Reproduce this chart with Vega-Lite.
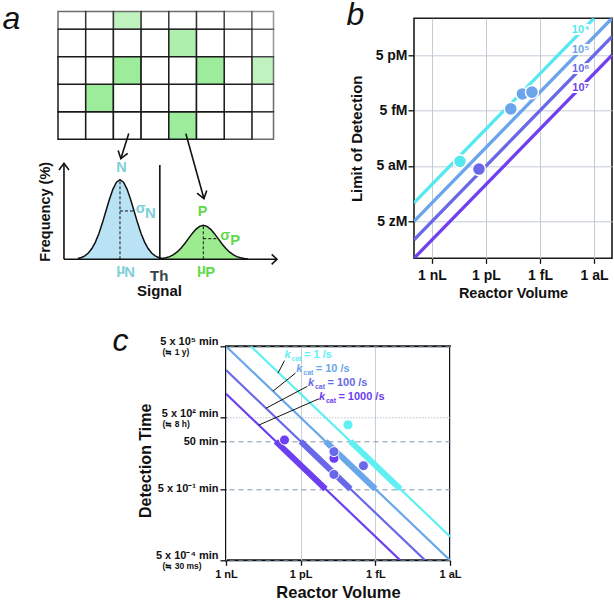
{
"$schema": "https://vega.github.io/schema/vega-lite/v6.json",
"padding": {"left": 2, "top": -1.7, "right": 0, "bottom": 0},
"background": "white",
"config": {
  "font": "Liberation Sans",
  "view": {"stroke": null},
  "axis": {"labelFont": "Liberation Sans", "titleFont": "Liberation Sans", "labelFontWeight": "bold", "titleFontWeight": "bold", "labelColor": "#111111", "titleColor": "#111111", "tickColor": "#111111", "labelFlush": false, "labelOverlap": false, "labelBound": false},
  "title": {"font": "Liberation Sans", "color": "#111111"},
  "text": {"font": "Liberation Sans"}
},
"datasets": {
  "cells": [
    {"c0":7,"c1":7.78,"r0":3,"r1":4,"z":"faint","s":"neg"},
    {"c0":6,"c1":7,"r0":4,"r1":4.65,"z":"faint","s":"neg"},
    {"c0":7,"c1":7.78,"r0":4,"r1":4.65,"z":"faint","s":"neg"},
    {"c0":7,"c1":7.78,"r0":0,"r1":1,"z":"far","s":"neg"},
    {"c0":7,"c1":7.78,"r0":1,"r1":2,"z":"far","s":"neg"},
    {"c0":7,"c1":7.78,"r0":2,"r1":3,"z":"far","s":"pos"},
    {"c0":6,"c1":7,"r0":3,"r1":4,"z":"far","s":"neg"},
    {"c0":0,"c1":1,"r0":4,"r1":4.65,"z":"far","s":"neg"},
    {"c0":1,"c1":2,"r0":4,"r1":4.65,"z":"far","s":"neg"},
    {"c0":2,"c1":3,"r0":4,"r1":4.65,"z":"far","s":"pos"},
    {"c0":3,"c1":4,"r0":4,"r1":4.65,"z":"far","s":"neg"},
    {"c0":4,"c1":5,"r0":4,"r1":4.65,"z":"far","s":"neg"},
    {"c0":5,"c1":6,"r0":4,"r1":4.65,"z":"far","s":"neg"},
    {"c0":6,"c1":7,"r0":0,"r1":1,"z":"edge","s":"neg"},
    {"c0":6,"c1":7,"r0":1,"r1":2,"z":"edge","s":"neg"},
    {"c0":6,"c1":7,"r0":2,"r1":3,"z":"edge","s":"neg"},
    {"c0":0,"c1":1,"r0":3,"r1":4,"z":"edge","s":"neg"},
    {"c0":1,"c1":2,"r0":3,"r1":4,"z":"edge","s":"neg"},
    {"c0":2,"c1":3,"r0":3,"r1":4,"z":"edge","s":"neg"},
    {"c0":3,"c1":4,"r0":3,"r1":4,"z":"edge","s":"neg"},
    {"c0":4,"c1":5,"r0":3,"r1":4,"z":"edge","s":"pos"},
    {"c0":5,"c1":6,"r0":3,"r1":4,"z":"edge","s":"neg"},
    {"c0":0,"c1":1,"r0":0,"r1":1,"z":"core","s":"neg"},
    {"c0":1,"c1":2,"r0":0,"r1":1,"z":"core","s":"neg"},
    {"c0":2,"c1":3,"r0":0,"r1":1,"z":"core","s":"neg"},
    {"c0":3,"c1":4,"r0":0,"r1":1,"z":"core","s":"neg"},
    {"c0":4,"c1":5,"r0":0,"r1":1,"z":"core","s":"pos"},
    {"c0":5,"c1":6,"r0":0,"r1":1,"z":"core","s":"neg"},
    {"c0":0,"c1":1,"r0":1,"r1":2,"z":"core","s":"neg"},
    {"c0":1,"c1":2,"r0":1,"r1":2,"z":"core","s":"pos"},
    {"c0":2,"c1":3,"r0":1,"r1":2,"z":"core","s":"neg"},
    {"c0":3,"c1":4,"r0":1,"r1":2,"z":"core","s":"neg"},
    {"c0":4,"c1":5,"r0":1,"r1":2,"z":"core","s":"neg"},
    {"c0":5,"c1":6,"r0":1,"r1":2,"z":"core","s":"neg"},
    {"c0":0,"c1":1,"r0":2,"r1":3,"z":"core","s":"neg"},
    {"c0":1,"c1":2,"r0":2,"r1":3,"z":"core","s":"neg"},
    {"c0":2,"c1":3,"r0":2,"r1":3,"z":"core","s":"pos"},
    {"c0":3,"c1":4,"r0":2,"r1":3,"z":"core","s":"neg"},
    {"c0":4,"c1":5,"r0":2,"r1":3,"z":"core","s":"neg"},
    {"c0":5,"c1":6,"r0":2,"r1":3,"z":"core","s":"pos"}
  ],
  "curves": [
    {"d":"N","s":0.65,"f":0.88},{"d":"N","s":0.815,"f":1.81},{"d":"N","s":0.98,"f":3.49},{"d":"N","s":1.145,"f":6.34},{"d":"N","s":1.31,"f":10.77},{"d":"N","s":1.475,"f":17.22},{"d":"N","s":1.64,"f":25.85},{"d":"N","s":1.805,"f":36.44},{"d":"N","s":1.97,"f":48.28},{"d":"N","s":2.135,"f":60.08},{"d":"N","s":2.3,"f":70.25},{"d":"N","s":2.465,"f":77.15},{"d":"N","s":2.63,"f":79.6},{"d":"N","s":2.795,"f":77.15},{"d":"N","s":2.96,"f":70.25},{"d":"N","s":3.125,"f":60.08},{"d":"N","s":3.29,"f":48.28},{"d":"N","s":3.455,"f":36.44},{"d":"N","s":3.62,"f":25.85},{"d":"N","s":3.785,"f":17.22},{"d":"N","s":3.95,"f":10.77},{"d":"N","s":4.115,"f":6.34},{"d":"N","s":4.28,"f":3.49},{"d":"N","s":4.445,"f":1.81},{"d":"N","s":4.61,"f":0.88},
    {"d":"P","s":4.44,"f":0.38},{"d":"P","s":4.615,"f":0.78},{"d":"P","s":4.79,"f":1.49},{"d":"P","s":4.965,"f":2.71},{"d":"P","s":5.14,"f":4.6},{"d":"P","s":5.315,"f":7.35},{"d":"P","s":5.49,"f":11.04},{"d":"P","s":5.665,"f":15.57},{"d":"P","s":5.84,"f":20.62},{"d":"P","s":6.015,"f":25.66},{"d":"P","s":6.19,"f":30.0},{"d":"P","s":6.365,"f":32.95},{"d":"P","s":6.54,"f":34},{"d":"P","s":6.715,"f":32.95},{"d":"P","s":6.89,"f":30.0},{"d":"P","s":7.065,"f":25.66},{"d":"P","s":7.24,"f":20.62},{"d":"P","s":7.415,"f":15.57},{"d":"P","s":7.59,"f":11.04},{"d":"P","s":7.765,"f":7.35},{"d":"P","s":7.94,"f":4.6},{"d":"P","s":8.115,"f":2.71},{"d":"P","s":8.29,"f":1.49},{"d":"P","s":8.465,"f":0.78},{"d":"P","s":8.64,"f":0.38}
  ],
  "aLines": [
    {"id":"ya","i":0,"s":0,"f":0,"k":"solid"},{"id":"ya","i":1,"s":0,"f":96,"k":"solid"},
    {"id":"yh","i":0,"s":-0.235,"f":89.3,"k":"solid"},{"id":"yh","i":1,"s":0,"f":96,"k":"solid"},{"id":"yh","i":2,"s":0.235,"f":89.3,"k":"solid"},
    {"id":"xa","i":0,"s":0,"f":0,"k":"solid"},{"id":"xa","i":1,"s":10,"f":0,"k":"solid"},
    {"id":"xh","i":0,"s":9.75,"f":5,"k":"solid"},{"id":"xh","i":1,"s":10,"f":0,"k":"solid"},{"id":"xh","i":2,"s":9.75,"f":-5,"k":"solid"},
    {"id":"th","i":0,"s":4.5,"f":0,"k":"solid"},{"id":"th","i":1,"s":4.5,"f":94.4,"k":"solid"},
    {"id":"ar1","i":0,"s":3.04,"f":125.7,"k":"solid"},{"id":"ar1","i":1,"s":2.67,"f":100.7,"k":"solid"},
    {"id":"ah1","i":0,"s":2.99,"f":105.9,"k":"solid"},{"id":"ah1","i":1,"s":2.67,"f":100.7,"k":"solid"},{"id":"ah1","i":2,"s":2.54,"f":108.9,"k":"solid"},
    {"id":"ar2","i":0,"s":5.72,"f":125.7,"k":"solid"},{"id":"ar2","i":1,"s":6.57,"f":60.7,"k":"solid"},
    {"id":"ah2","i":0,"s":6.7,"f":68.7,"k":"solid"},{"id":"ah2","i":1,"s":6.57,"f":60.7,"k":"solid"},{"id":"ah2","i":2,"s":6.25,"f":66.1,"k":"solid"},
    {"id":"muN","i":0,"s":2.63,"f":0,"k":"dashed"},{"id":"muN","i":1,"s":2.63,"f":79.6,"k":"dashed"},
    {"id":"sgN","i":0,"s":2.63,"f":48.3,"k":"dashed"},{"id":"sgN","i":1,"s":3.29,"f":48.3,"k":"dashed"},
    {"id":"muP","i":0,"s":6.54,"f":0,"k":"dashed"},{"id":"muP","i":1,"s":6.54,"f":34,"k":"dashed"},
    {"id":"sgP","i":0,"s":6.54,"f":20.6,"k":"dashed"},{"id":"sgP","i":1,"s":7.24,"f":20.6,"k":"dashed"}
  ],
  "aText": [
    {"t":"N","s":2.7,"f":91,"role":"name","who":"N"},
    {"t":"σ","s":3.6,"f":50.7,"role":"sym","who":"N"},
    {"t":"N","s":4.06,"f":45.5,"role":"sub","who":"N"},
    {"t":"P","s":6.51,"f":47.7,"role":"name","who":"P"},
    {"t":"σ","s":7.57,"f":23.5,"role":"sym","who":"P"},
    {"t":"P","s":8.04,"f":18,"role":"sub","who":"P"},
    {"t":"μ","s":2.67,"f":-10.5,"role":"sym","who":"N"},
    {"t":"N","s":3.08,"f":-13.8,"role":"sub","who":"N"},
    {"t":"Th","s":4.47,"f":-16.3,"role":"th","who":"T"},
    {"t":"μ","s":6.45,"f":-10.5,"role":"sym","who":"P"},
    {"t":"P","s":6.86,"f":-13.8,"role":"sub","who":"P"}
  ],
  "bLines": [
    {"n":"10⁴","v":1e-8,"c":5e-20},{"n":"10⁴","v":1e-18,"c":5e-10},
    {"n":"10⁵","v":1e-8,"c":5e-21},{"n":"10⁵","v":1e-19,"c":5e-10},
    {"n":"10⁶","v":1e-8,"c":5e-22},{"n":"10⁶","v":1e-19,"c":5e-11},
    {"n":"10⁷","v":1e-8,"c":5e-23},{"n":"10⁷","v":1e-19,"c":5e-12}
  ],
  "bLabels": [
    {"n":"10⁴","v":5.5e-18,"c":1.1e-10},
    {"n":"10⁵","v":5.5e-18,"c":1.0e-11},
    {"n":"10⁶","v":5.5e-18,"c":9.2e-13},
    {"n":"10⁷","v":5.5e-18,"c":8.0e-14}
  ],
  "bPoints": [
    {"n":"10⁴","v":2.8e-11,"c":8.9e-18},
    {"n":"10⁶","v":2.45e-12,"c":3.4e-18},
    {"n":"10⁵","v":4.2e-14,"c":6.2e-15},
    {"n":"10⁵","v":9.5e-15,"c":4.0e-14},
    {"n":"10⁵","v":2.8e-15,"c":5.0e-14}
  ],
  "cLines": [
    {"k":"1","v":1e-10,"t":5e5},{"k":"1","v":1e-18,"t":5e-3},
    {"k":"10","v":1e-9,"t":5e5},{"k":"10","v":1e-18,"t":5e-4},
    {"k":"100","v":1e-9,"t":5e4},{"k":"100","v":1e-17,"t":5e-4},
    {"k":"1000","v":1e-9,"t":5e3},{"k":"1000","v":1e-16,"t":5e-4}
  ],
  "cThick": [
    {"k":"1","v":1e-14,"t":50},{"k":"1","v":1e-16,"t":0.5},
    {"k":"10","v":1e-13,"t":50},{"k":"10","v":1e-15,"t":0.5},
    {"k":"100","v":1e-12,"t":50},{"k":"100","v":1e-14,"t":0.5},
    {"k":"1000","v":1e-11,"t":50},{"k":"1000","v":1e-13,"t":0.5}
  ],
  "cPoints": [
    {"k":"1","v":1.25e-14,"t":248},
    {"k":"1000","v":4.46e-12,"t":57.8},
    {"k":"1000","v":4.6e-14,"t":9.7},
    {"k":"100","v":4.6e-14,"t":18.6},
    {"k":"100","v":4.6e-14,"t":2.05},
    {"k":"100","v":3.0e-15,"t":4.76}
  ],
  "cLabels": [
    {"k":"1","v":4.46e-12,"t":1.56e5,"txt":"= 1 /s"},
    {"k":"10","v":1.5e-12,"t":4.0e4,"txt":"= 10 /s"},
    {"k":"100","v":5.1e-13,"t":1.03e4,"txt":"= 100 /s"},
    {"k":"1000","v":1.85e-13,"t":2.77e3,"txt":"= 1000 /s"}
  ],
  "cLeaders": [
    {"k":"1","i":0,"v":4.46e-12,"t":1.25e5},{"k":"1","i":1,"v":8.15e-12,"t":3.74e4},
    {"k":"10","i":0,"v":1.61e-12,"t":3.73e4},{"k":"10","i":1,"v":1.3e-11,"t":6.5e3},
    {"k":"100","i":0,"v":5.42e-13,"t":1.03e4},{"k":"100","i":1,"v":2.48e-11,"t":1.24e3},
    {"k":"1000","i":0,"v":1.85e-13,"t":3.1e3},{"k":"1000","i":1,"v":4.84e-11,"t":242}
  ],
  "cSub": [
    {"v":1e-9,"t":5e5,"s":"(≒ 1 y)"},
    {"v":1e-9,"t":500,"s":"(≒ 8 h)"},
    {"v":1e-9,"t":5e-4,"s":"(≒ 30 ms)"}
  ]
},
"bounds": "flush",
"spacing": 328,
"resolve": {"scale": {"color": "independent", "fill": "independent", "opacity": "independent", "size": "independent", "strokeDash": "independent", "strokeWidth": "independent"}},
"vconcat": [
  {
    "bounds": "flush",
    "spacing": 356,
    "resolve": {"scale": {"color": "independent", "fill": "independent", "opacity": "independent", "size": "independent", "strokeDash": "independent", "strokeWidth": "independent"}},
    "hconcat": [
      {
        "bounds": "flush",
        "spacing": 24,
        "resolve": {"scale": {"color": "independent", "fill": "independent", "opacity": "independent", "size": "independent", "strokeDash": "independent", "strokeWidth": "independent"}},
        "vconcat": [
          {
            "width": 219, "height": 121,
            "title": {"text": "a", "fontSize": 32, "fontStyle": "italic", "fontWeight": "normal", "anchor": "start", "frame": "group", "offset": 0, "baseline": "alphabetic", "dx": -55.5, "dy": 50.3},
            "data": {"name": "cells"},
            "mark": {"type": "rect", "stroke": "#1a1a1a", "strokeWidth": 1.5},
            "encoding": {
              "x": {"field": "c0", "type": "quantitative", "scale": {"domain": [0, 7.906], "nice": false, "zero": false}, "axis": null},
              "x2": {"field": "c1"},
              "y": {"field": "r0", "type": "quantitative", "scale": {"domain": [0, 4.4], "nice": false, "zero": false}, "axis": null},
              "y2": {"field": "r1"},
              "fill": {"field": "s", "type": "nominal", "scale": {"domain": ["pos", "neg"], "range": ["#9cec9c", "#ffffff"]}, "legend": null},
              "opacity": {"field": "z", "type": "ordinal", "scale": {"domain": ["core", "edge", "far", "faint"], "range": [1, 0.45, 0.15, 0.06]}, "legend": null}
            }
          },
          {
            "width": 219, "height": 96,
            "encoding": {
              "x": {"field": "s", "type": "quantitative", "scale": {"domain": [-0.28, 10], "nice": false, "zero": false}, "axis": {"title": "Signal", "domain": false, "ticks": false, "labels": false, "grid": false, "titlePadding": 24, "titleX": 101, "titleFontSize": 15}},
              "y": {"field": "f", "type": "quantitative", "stack": null, "scale": {"domain": [0, 96], "nice": false}, "axis": {"title": "Frequency (%)", "domain": false, "ticks": false, "labels": false, "grid": false, "titlePadding": 6, "titleFontSize": 14.5}}
            },
            "layer": [
              {"data": {"name": "curves"}, "mark": {"type": "area"},
               "encoding": {"fill": {"field": "d", "type": "nominal", "scale": {"domain": ["N", "P"], "range": ["#b9e3f5", "#9cec8f"]}, "legend": null}}},
              {"data": {"name": "curves"}, "mark": {"type": "line", "color": "#111111", "strokeWidth": 1.5},
               "encoding": {"detail": {"field": "d"}}},
              {"data": {"name": "aLines"}, "mark": {"type": "line", "color": "#111111"},
               "encoding": {"detail": {"field": "id"}, "order": {"field": "i"},
                 "strokeDash": {"field": "k", "type": "nominal", "scale": {"domain": ["solid", "dashed"], "range": [[1, 0], [3, 2]]}, "legend": null},
                 "strokeWidth": {"field": "k", "type": "ordinal", "scale": {"domain": ["solid", "dashed"], "range": [1.6, 1]}, "legend": null}}},
              {"data": {"name": "aText"}, "mark": {"type": "text", "fontWeight": "bold", "align": "center", "baseline": "middle"},
               "encoding": {"text": {"field": "t"},
                 "size": {"field": "role", "type": "ordinal", "scale": {"domain": ["name", "sym", "sub", "th"], "range": [14.5, 15, 8.5, 14.5]}, "legend": null},
                 "color": {"field": "who", "type": "nominal", "scale": {"domain": ["N", "P", "T"], "range": ["#7dcfd8", "#62d94c", "#33434b"]}, "legend": null}}}
            ]
          }
        ]
      },
      {
        "width": 198, "height": 240,
        "title": {"text": "b", "fontSize": 32, "fontStyle": "italic", "fontWeight": "normal", "anchor": "start", "frame": "group", "offset": 0, "baseline": "alphabetic", "dx": -67.5, "dy": 39},
        "view": {"stroke": "#1c1c1c", "strokeWidth": 1.6},
        "encoding": {
          "x": {"field": "v", "type": "quantitative", "scale": {"type": "log", "domain": [1e-19, 1e-8], "reverse": true, "nice": false},
            "axis": {"values": [1e-9, 1e-12, 1e-15, 1e-18], "labelExpr": "datum.value > 1e-10 ? '1 nL' : datum.value > 1e-13 ? '1 pL' : datum.value > 1e-16 ? '1 fL' : '1 aL'", "title": "Reactor Volume", "grid": true, "gridColor": "#c2cbd6", "gridWidth": 1, "domain": false, "tickSize": 5, "tickWidth": 1.3, "labelFontSize": 14, "labelPadding": 5, "titleFontSize": 14.5, "titlePadding": 4}},
          "y": {"field": "c", "type": "quantitative", "scale": {"type": "log", "domain": [5e-23, 5e-10], "nice": false},
            "axis": {"values": [5e-12, 5e-15, 5e-18, 5e-21], "labelExpr": "datum.value > 1e-13 ? '5 pM' : datum.value > 1e-16 ? '5 fM' : datum.value > 1e-19 ? '5 aM' : '5 zM'", "title": "Limit of Detection", "grid": true, "gridColor": "#c2cbd6", "gridWidth": 1, "domain": false, "tickSize": 6, "tickWidth": 1.3, "labelFontSize": 14, "labelPadding": 1, "titleFontSize": 15, "titlePadding": 10.5}}
        },
        "layer": [
          {"data": {"name": "bLines"}, "mark": {"type": "line", "strokeWidth": 3.3, "clip": true},
           "encoding": {"color": {"field": "n", "type": "nominal", "scale": {"domain": ["10⁴", "10⁵", "10⁶", "10⁷"], "range": ["#55e8f0", "#6aa4ea", "#6a68e8", "#7040f0"]}, "legend": null}, "detail": {"field": "n"}}},
          {"data": {"name": "bLabels"}, "mark": {"type": "text", "fontSize": 11, "fontWeight": "bold", "stroke": "white", "strokeWidth": 4, "fill": "white", "strokeJoin": "round", "baseline": "middle"},
           "encoding": {"text": {"field": "n"}}},
          {"data": {"name": "bLabels"}, "mark": {"type": "text", "fontSize": 11, "fontWeight": "bold", "baseline": "middle"},
           "encoding": {"text": {"field": "n"}, "color": {"field": "n", "type": "nominal", "scale": {"domain": ["10⁴", "10⁵", "10⁶", "10⁷"], "range": ["#55e8f0", "#6aa4ea", "#6a68e8", "#7040f0"]}, "legend": null}}},
          {"data": {"name": "bPoints"}, "mark": {"type": "circle", "size": 170, "stroke": "white", "strokeWidth": 1.5, "opacity": 1},
           "encoding": {"color": {"field": "n", "type": "nominal", "scale": {"domain": ["10⁴", "10⁵", "10⁶", "10⁷"], "range": ["#55e8f0", "#6aa4ea", "#6a68e8", "#7040f0"]}, "legend": null}}}
        ]
      }
    ]
  },
  {
    "bounds": "flush",
    "spacing": 137,
    "resolve": {"scale": {"color": "independent", "fill": "independent", "opacity": "independent", "size": "independent", "strokeDash": "independent", "strokeWidth": "independent"}},
    "hconcat": [
      {"width": 31, "height": 1, "data": {"values": []}, "mark": "point"},
      {
        "width": 224, "height": 214,
        "title": {"text": "c", "fontSize": 32, "fontStyle": "italic", "fontWeight": "normal", "anchor": "start", "frame": "group", "offset": 0, "baseline": "alphabetic", "dx": -113.5, "dy": 46.8},
        "view": {"stroke": "#111111", "strokeWidth": 2},
        "encoding": {
          "x": {"field": "v", "type": "quantitative", "scale": {"type": "log", "domain": [1e-18, 1e-9], "reverse": true, "nice": false},
            "axis": {"values": [1e-9, 1e-12, 1e-15, 1e-18], "labelExpr": "datum.value > 1e-10 ? '1 nL' : datum.value > 1e-13 ? '1 pL' : datum.value > 1e-16 ? '1 fL' : '1 aL'", "title": "Reactor Volume", "grid": true, "gridColor": "#c6d0da", "gridWidth": 1, "domain": false, "tickSize": 5, "tickWidth": 1.3, "labelFontSize": 11, "labelPadding": 3, "titleFontSize": 16.5, "titlePadding": 5}},
          "y": {"field": "t", "type": "quantitative", "scale": {"type": "log", "domain": [5e-4, 5e5], "nice": false},
            "axis": {"values": [5e5, 500, 50, 0.5, 5e-4], "labelExpr": "datum.value > 1e5 ? '5 x 10⁵ min' : datum.value > 100 ? '5 x 10² min' : datum.value > 10 ? '50 min' : datum.value > 0.1 ? '5 x 10⁻¹ min' : '5 x 10⁻⁴ min'",
              "title": "Detection Time", "grid": true,
              "gridColor": {"condition": {"test": "datum.value > 100 && datum.value < 1000", "value": "#b9c3cf"}, "value": "#7f95a9"},
              "gridDash": {"condition": {"test": "datum.value > 100 && datum.value < 1000", "value": [1.5, 1.5]}, "value": [5, 4]},
              "gridWidth": 1, "domain": false, "tickSize": 6, "tickWidth": 1.3, "labelFontSize": 11, "labelPadding": 2,
              "labelBaseline": {"condition": {"test": "datum.value > 100 || datum.value < 0.001", "value": "alphabetic"}, "value": "middle"},
              "labelOffset": {"condition": {"test": "datum.value > 100 || datum.value < 0.001", "value": -1.5}, "value": 0},
              "titleFontSize": 16, "titlePadding": 2, "titleY": 114}}
        },
        "layer": [
          {"data": {"name": "cLines"}, "mark": {"type": "line", "strokeWidth": 2.2, "clip": true},
           "encoding": {"color": {"field": "k", "type": "nominal", "scale": {"domain": ["1", "10", "100", "1000"], "range": ["#5ef0f3", "#6aa6ea", "#6868e8", "#6c40f0"]}, "legend": null}, "detail": {"field": "k"}}},
          {"data": {"name": "cThick"}, "mark": {"type": "line", "strokeWidth": 6},
           "encoding": {"color": {"field": "k", "type": "nominal", "scale": {"domain": ["1", "10", "100", "1000"], "range": ["#5ef0f3", "#6aa6ea", "#6868e8", "#6c40f0"]}, "legend": null}, "detail": {"field": "k"}}},
          {"data": {"name": "cLeaders"}, "mark": {"type": "line", "strokeWidth": 1, "color": "#111111"},
           "encoding": {"detail": {"field": "k"}, "order": {"field": "i"}}},
          {"data": {"name": "cPoints"}, "mark": {"type": "circle", "size": 100, "stroke": "white", "strokeWidth": 1, "opacity": 1},
           "encoding": {"color": {"field": "k", "type": "nominal", "scale": {"domain": ["1", "10", "100", "1000"], "range": ["#5ef0f3", "#6aa6ea", "#6868e8", "#6c40f0"]}, "legend": null}}},
          {"data": {"name": "cLabels"}, "mark": {"type": "text", "text": "k", "fontSize": 11, "fontWeight": "bold", "fontStyle": "italic", "align": "left", "baseline": "alphabetic"},
           "encoding": {"color": {"field": "k", "type": "nominal", "scale": {"domain": ["1", "10", "100", "1000"], "range": ["#5ef0f3", "#6aa6ea", "#6868e8", "#6c40f0"]}, "legend": null}}},
          {"data": {"name": "cLabels"}, "mark": {"type": "text", "text": "cat", "fontSize": 7, "fontWeight": "bold", "align": "left", "baseline": "alphabetic", "dx": 7, "dy": 3},
           "encoding": {"color": {"field": "k", "type": "nominal", "scale": {"domain": ["1", "10", "100", "1000"], "range": ["#5ef0f3", "#6aa6ea", "#6868e8", "#6c40f0"]}, "legend": null}}},
          {"data": {"name": "cLabels"}, "mark": {"type": "text", "fontSize": 11, "fontWeight": "bold", "align": "left", "baseline": "alphabetic", "dx": 19.5},
           "encoding": {"text": {"field": "txt"}, "color": {"field": "k", "type": "nominal", "scale": {"domain": ["1", "10", "100", "1000"], "range": ["#5ef0f3", "#6aa6ea", "#6868e8", "#6c40f0"]}, "legend": null}}},
          {"data": {"name": "cSub"}, "mark": {"type": "text", "fontSize": 8.5, "fontWeight": "bold", "align": "left", "baseline": "top", "dx": -63.4, "dy": 2, "color": "#111111"},
           "encoding": {"text": {"field": "s"}}}
        ]
      }
    ]
  }
]
}
